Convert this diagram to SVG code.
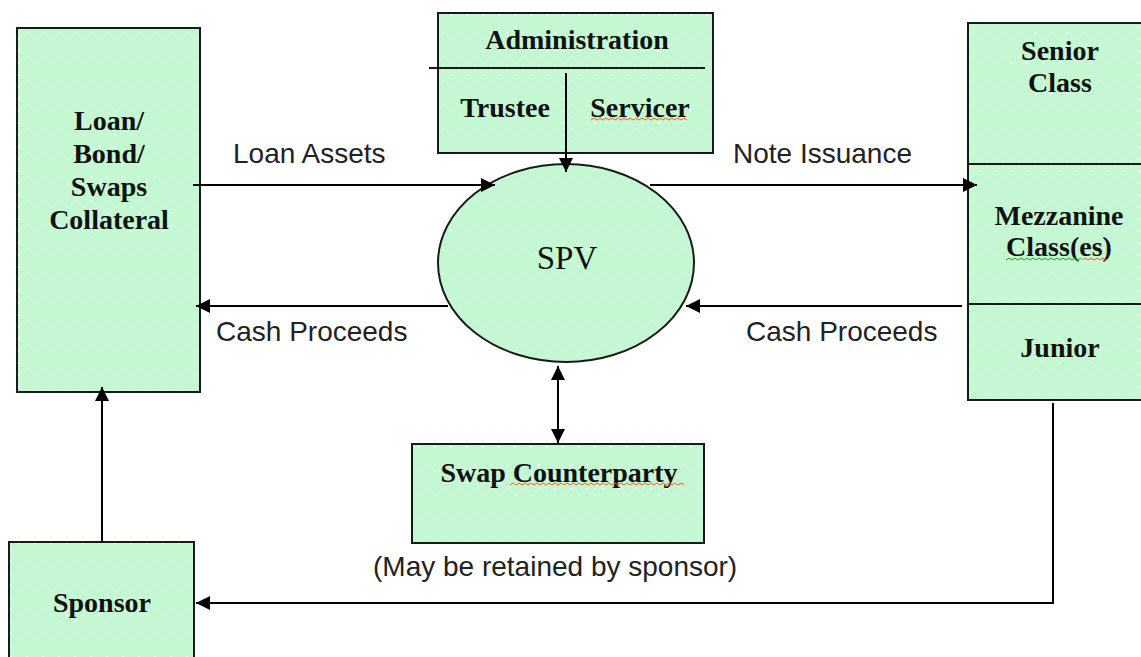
<svg xmlns="http://www.w3.org/2000/svg" width="1141" height="657" viewBox="0 0 1141 657">
  <defs>
    <!-- light green fill with a sparse white dot texture -->
    <pattern id="dots" width="16" height="12" patternUnits="userSpaceOnUse">
      <rect width="16" height="12" fill="#c4f8d2"/>
      <circle cx="3" cy="3" r="0.9" fill="#ffffff" opacity="0.9"/>
      <circle cx="11" cy="9" r="0.9" fill="#ffffff" opacity="0.9"/>
    </pattern>
    <marker id="arrow" viewBox="0 0 12 12" refX="12" refY="6" markerWidth="14" markerHeight="14" markerUnits="userSpaceOnUse" orient="auto-start-reverse">
      <path d="M0,0 L12,6 L0,12 Z" fill="#000"/>
    </marker>
  </defs>
  <style>
    .box { fill: url(#dots); stroke: #1a1a1a; stroke-width: 2; }
    .line { fill: none; stroke: #1a1a1a; stroke-width: 2; }
    .conn { fill: none; stroke: #000; stroke-width: 2; }
    .title { font-family: "Liberation Serif", "Times New Roman", serif; font-weight: bold; font-size: 28px; fill: #111; text-anchor: middle; }
    .spv { font-family: "Liberation Serif", "Times New Roman", serif; font-size: 33px; fill: #111; text-anchor: middle; }
    .label { font-family: "Liberation Sans", Arial, sans-serif; font-size: 28px; fill: #222; }
    .squig-red { fill: none; stroke: #ff5a1a; stroke-width: 1; }
    .squig-green { fill: none; stroke: #1aa51a; stroke-width: 1; }
  </style>

  <rect width="1141" height="657" fill="#ffffff"/>

  <!-- collateral pool -->
  <g id="collateral">
    <rect class="box" x="17" y="28" width="183" height="364"/>
    <text class="title" x="109" y="130">Loan/</text>
    <text class="title" x="109" y="163">Bond/</text>
    <text class="title" x="109" y="196">Swaps</text>
    <text class="title" x="109" y="229">Collateral</text>
  </g>

  <!-- administration -->
  <g id="administration">
    <rect class="box" x="438" y="13" width="275" height="140"/>
    <line class="line" x1="429" y1="68" x2="705" y2="68"/>
    <text class="title" x="577" y="49">Administration</text>
    <text class="title" x="505" y="117">Trustee</text>
    <text class="title" x="640" y="117">Servicer</text>
    <path class="squig-red" d="M591,120 l3,-2 l3,2 l3,-2 l3,2 l3,-2 l3,2 l3,-2 l3,2 l3,-2 l3,2 l3,-2 l3,2 l3,-2 l3,2 l3,-2 l3,2 l3,-2 l3,2 l3,-2 l3,2 l3,-2 l3,2 l3,-2 l3,2 l3,-2 l3,2 l3,-2 l3,2 l3,-2 l3,2 l3,-2 l3,2"/>
  </g>

  <!-- special purpose vehicle -->
  <g id="spv">
    <ellipse class="box" cx="566" cy="263" rx="128" ry="99"/>
    <text class="spv" x="567" y="269">SPV</text>
  </g>

  <!-- note tranches -->
  <g id="tranches">
    <rect class="box" x="968" y="23" width="200" height="377"/>
    <line class="line" x1="968" y1="164" x2="1141" y2="164"/>
    <line class="line" x1="968" y1="304" x2="1141" y2="304"/>
    <text class="title" x="1060" y="60">Senior</text>
    <text class="title" x="1060" y="92">Class</text>
    <text class="title" x="1059" y="225">Mezzanine</text>
    <text class="title" x="1059" y="256">Class(es)</text>
    <path class="squig-green" d="M1006,260 l3,-2 l3,2 l3,-2 l3,2 l3,-2 l3,2 l3,-2 l3,2 l3,-2 l3,2 l3,-2 l3,2 l3,-2 l3,2 l3,-2 l3,2 l3,-2 l3,2 l3,-2 l3,2 l3,-2 l3,2 l3,-2 l3,2 l3,-2"/>
    <path class="squig-red" d="M1082,260 l3,-2 l3,2 l3,-2 l3,2 l3,-2 l3,2 l3,-2 l3,2"/>
    <text class="title" x="1060" y="357">Junior</text>
  </g>

  <!-- swap counterparty -->
  <g id="swap-counterparty">
    <rect class="box" x="412" y="444" width="292" height="99"/>
    <text class="title" x="559" y="482">Swap Counterparty</text>
    <path class="squig-red" d="M510,485 l3,-2 l3,2 l3,-2 l3,2 l3,-2 l3,2 l3,-2 l3,2 l3,-2 l3,2 l3,-2 l3,2 l3,-2 l3,2 l3,-2 l3,2 l3,-2 l3,2 l3,-2 l3,2 l3,-2 l3,2 l3,-2 l3,2 l3,-2 l3,2 l3,-2 l3,2 l3,-2 l3,2 l3,-2 l3,2 l3,-2 l3,2 l3,-2 l3,2 l3,-2 l3,2 l3,-2 l3,2 l3,-2 l3,2 l3,-2 l3,2 l3,-2 l3,2 l3,-2 l3,2 l3,-2 l3,2 l3,-2 l3,2 l3,-2 l3,2 l3,-2 l3,2 l3,-2 l3,2"/>
  </g>

  <!-- sponsor -->
  <g id="sponsor">
    <rect class="box" x="9" y="542" width="185" height="130"/>
    <text class="title" x="102" y="612">Sponsor</text>
  </g>

  <!-- flows between parties -->
  <g id="connectors">
    <line class="conn" x1="193" y1="185" x2="495" y2="185" marker-end="url(#arrow)"/>
    <line class="conn" x1="566" y1="73" x2="566" y2="172" marker-end="url(#arrow)"/>
    <line class="conn" x1="650" y1="185" x2="977" y2="185" marker-end="url(#arrow)"/>
    <line class="conn" x1="448" y1="306" x2="196" y2="306" marker-end="url(#arrow)"/>
    <line class="conn" x1="962" y1="306" x2="686" y2="306" marker-end="url(#arrow)"/>
    <line class="conn" x1="558" y1="366" x2="558" y2="443" marker-start="url(#arrow)" marker-end="url(#arrow)"/>
    <line class="conn" x1="102" y1="542" x2="102" y2="387" marker-end="url(#arrow)"/>
    <polyline class="conn" points="1053,403 1053,603 196,603" marker-end="url(#arrow)"/>
  </g>

  <!-- flow labels -->
  <g id="labels">
    <text class="label" x="233" y="163">Loan Assets</text>
    <text class="label" x="733" y="163">Note Issuance</text>
    <text class="label" x="216" y="341">Cash Proceeds</text>
    <text class="label" x="746" y="341">Cash Proceeds</text>
    <text class="label" x="373" y="576">(May be retained by sponsor)</text>
  </g>
</svg>
